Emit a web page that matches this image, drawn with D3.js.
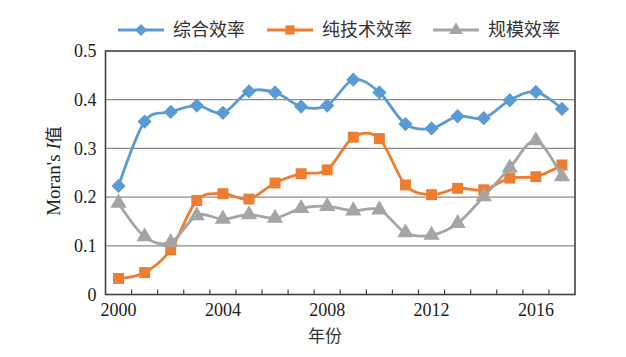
<!DOCTYPE html>
<html><head><meta charset="utf-8">
<script src="https://cdn.jsdelivr.net/npm/d3@7"></script>
<style>body{margin:0;background:#fff}svg{display:block}</style>
</head><body>
<svg id="c" width="626" height="357"></svg>
<script>
const years = [2000,2001,2002,2003,2004,2005,2006,2007,2008,2009,2010,2011,2012,2013,2014,2015,2016,2017];
const seriesNames = ["综合效率","纯技术效率","规模效率"];
const overall = [0.223,0.355,0.375,0.388,0.373,0.417,0.415,0.386,0.388,0.441,0.415,0.350,0.341,0.366,0.362,0.399,0.416,0.381];
const pureTech = [0.033,0.045,0.092,0.193,0.207,0.196,0.229,0.248,0.256,0.323,0.320,0.225,0.205,0.218,0.215,0.239,0.242,0.266];
const scale = [0.188,0.119,0.107,0.162,0.155,0.164,0.157,0.177,0.181,0.172,0.174,0.127,0.122,0.146,0.201,0.260,0.316,0.242];
const yTicks = [0,0.1,0.2,0.3,0.4,0.5];
const xLabelYears = [2000,2004,2008,2012,2016];

const colors = ["#5B9BD5","#ED7D31","#A5A5A5"];
const symbols = [d3.symbolDiamond2, d3.symbolSquare, d3.symbolTriangle];
const symSizes = [130, 120, 115];
const data = [overall, pureTech, scale];
const SERIF = '"Liberation Serif", "Times New Roman", "DejaVu Serif", serif';
const CJK = '"Noto Sans CJK SC", sans-serif';

const L = 105.5, R = 575, T = 51, B = 294.5;
const svg = d3.select("#c");
const x = d3.scaleBand().domain(years).range([L, R]);
const y = d3.scaleLinear().domain([0, 0.5]).range([B, T]);

// gridlines
svg.append("g").selectAll("line").data(yTicks.slice(1,5)).join("line")
  .attr("x1", L).attr("x2", R).attr("y1", d => y(d)).attr("y2", d => y(d))
  .attr("stroke", "#8c8c8c").attr("stroke-width", 1.2);

// y axis labels
const ya = svg.append("g").attr("transform", `translate(${L},0)`)
  .call(d3.axisLeft(y).tickValues(yTicks).tickFormat(d => d === 0 ? "0" : d3.format(".1f")(d)).tickSize(0).tickPadding(9));
ya.select(".domain").remove();
ya.selectAll("text").style("font-family", SERIF).style("font-size", "18px").attr("fill", "#222");

// x axis
const xa = svg.append("g").attr("transform", `translate(0,${B})`)
  .call(d3.axisBottom(x).tickValues(xLabelYears).tickSize(0).tickPadding(9));
xa.select(".domain").remove();
xa.selectAll("text").style("font-family", SERIF).style("font-size", "18px").attr("fill", "#222");
// inside tick marks at category boundaries
svg.append("g").selectAll("line").data(years.slice(1)).join("line")
  .attr("x1", d => x(d)).attr("x2", d => x(d)).attr("y1", B).attr("y2", B - 5)
  .attr("stroke", "#404040").attr("stroke-width", 1.2);

// frame
svg.append("rect").attr("x", L).attr("y", T).attr("width", R - L).attr("height", B - T)
  .attr("fill", "none").attr("stroke", "#404040").attr("stroke-width", 1.6);

// series
const line = d3.line().x((d, i) => x(years[i]) + x.bandwidth() / 2).y(d => y(d)).curve(d3.curveCatmullRom.alpha(0));
data.forEach((vals, k) => {
  svg.append("path").datum(vals).attr("d", line).attr("fill", "none")
    .attr("stroke", colors[k]).attr("stroke-width", 2.8);
  svg.append("g").selectAll("path").data(vals).join("path")
    .attr("transform", (d, i) => `translate(${x(years[i]) + x.bandwidth() / 2},${y(d)})`)
    .attr("d", d3.symbol().type(symbols[k]).size(symSizes[k]))
    .attr("fill", colors[k]);
});

// legend
const legX = [118, 267, 433];
const legY = 30;
seriesNames.forEach((n, k) => {
  const g = svg.append("g");
  g.append("line").attr("x1", legX[k]).attr("x2", legX[k] + 46).attr("y1", legY).attr("y2", legY)
    .attr("stroke", colors[k]).attr("stroke-width", 2.8);
  g.append("path").attr("transform", `translate(${legX[k] + 23},${legY})`)
    .attr("d", d3.symbol().type(symbols[k]).size(symSizes[k] * 0.7)).attr("fill", colors[k]);
  g.append("text").attr("x", legX[k] + 55).attr("y", legY).attr("dy", "0.35em")
    .style("font-family", CJK).style("font-size", "18px").attr("fill", "#333").text(n);
});

// axis titles
svg.append("text").attr("x", 325).attr("y", 336).attr("dy", "0.35em").attr("text-anchor", "middle")
  .style("font-family", CJK).style("font-size", "17px").attr("fill", "#333").text("年份");
const yt = svg.append("text").attr("transform", "translate(53,171) rotate(-90)").attr("text-anchor", "middle")
  .attr("dy", "0.35em").style("font-family", SERIF).style("font-size", "19px").attr("fill", "#222");
yt.append("tspan").text("Moran's ");
yt.append("tspan").style("font-style", "italic").text("I");
yt.append("tspan").style("font-family", CJK).style("font-size", "17px").text("值");
</script>
</body></html>
